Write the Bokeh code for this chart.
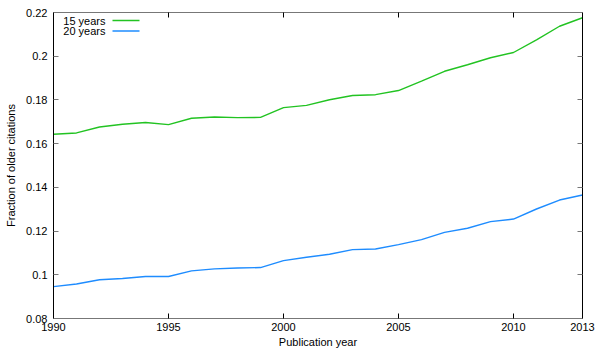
from bokeh.plotting import figure
from bokeh.models import Range1d, LinearAxis, FixedTicker, Label, Arrow
from bokeh.embed import file_html
from bokeh.resources import INLINE

years = list(range(1990, 2014))
frac_15 = [0.1643, 0.1649, 0.1676, 0.1689, 0.1697, 0.1687, 0.1716, 0.1722,
           0.1719, 0.1720, 0.1765, 0.1775, 0.1801, 0.1820, 0.1824, 0.1843,
           0.1886, 0.1931, 0.1961, 0.1993, 0.2017, 0.2075, 0.2137, 0.2176]
frac_20 = [0.0946, 0.0958, 0.0977, 0.0983, 0.0992, 0.0992, 0.1018, 0.1027,
           0.1031, 0.1033, 0.1065, 0.1080, 0.1094, 0.1115, 0.1118, 0.1138,
           0.1161, 0.1194, 0.1213, 0.1243, 0.1255, 0.1301, 0.1342, 0.1365]
series_names = ["15 years", "20 years"]
series_colors = ["#22c322", "#1e8cff"]

x_ticks = [1990, 1995, 2000, 2005, 2010, 2013]
y_ticks = [0.08, 0.1, 0.12, 0.14, 0.16, 0.18, 0.2, 0.22]
y_tick_labels = ["0.08", "0.1", "0.12", "0.14", "0.16", "0.18", "0.2", "0.22"]

FONT = "Liberation Sans"

p = figure(width=600, height=350, output_backend="svg", toolbar_location=None,
           x_range=Range1d(1990, 2013), y_range=Range1d(0.08, 0.22),
           min_border_left=53, min_border_right=18, min_border_top=12,
           min_border_bottom=31)
p.grid.visible = False
p.outline_line_color = "#777777"
p.background_fill_color = "white"
p.border_fill_color = "white"

for ys, name, col in zip([frac_15, frac_20], series_names, series_colors):
    p.line(years, ys, line_color=col, line_width=1.4)

xa = p.xaxis[0]
xa.ticker = FixedTicker(ticks=x_ticks)
xa.axis_label = "Publication year"
ya = p.yaxis[0]
ya.ticker = FixedTicker(ticks=y_ticks)
ya.major_label_overrides = dict(zip(y_ticks, y_tick_labels))
ya.axis_label = "Fraction of older citations"

for ax, col in ((xa, "#777777"), (ya, "black")):
    ax.axis_line_color = col
    ax.major_tick_in = 5
    ax.major_tick_out = 0
    ax.minor_tick_line_color = None
    ax.major_label_text_font = FONT
    ax.major_label_text_font_size = "11px"
    ax.major_label_text_color = "black"
    ax.axis_label_text_font = FONT
    ax.axis_label_text_font_size = "11px"
    ax.axis_label_text_font_style = "normal"
    ax.axis_label_text_color = "black"
xa.major_tick_line_color = "black"
ya.major_tick_line_color = "#777777"
xa.major_label_standoff = 4
xa.axis_label_standoff = 2
ya.major_label_standoff = 6
ya.axis_label_standoff = 6

# mirrored tick marks on top and right borders (no labels)
top = LinearAxis(ticker=FixedTicker(ticks=x_ticks[:-1]), axis_line_color="#777777",
                 major_tick_in=5, major_tick_out=0, minor_tick_line_color=None,
                 major_tick_line_color="black", major_label_text_color=None,
                 major_label_standoff=0)
right = LinearAxis(ticker=FixedTicker(ticks=y_ticks), axis_line_color="black",
                   major_tick_in=5, major_tick_out=0, minor_tick_line_color=None,
                   major_tick_line_color="#777777", major_label_text_color=None,
                   major_label_standoff=0)
p.add_layout(top, "above")
p.add_layout(right, "right")

# gnuplot-style key: label text on the left, line sample on the right
for i, (name, col) in enumerate(zip(series_names, series_colors)):
    sy = 298 - i * 10.5
    p.add_layout(Label(x=52, y=sy, x_units="screen", y_units="screen", text=name,
                       text_align="right", text_baseline="middle",
                       text_font=FONT, text_font_size="11px", text_color="black"))
    p.add_layout(Arrow(end=None, x_start=59, y_start=sy, x_end=86, y_end=sy,
                       start_units="screen", end_units="screen",
                       line_color=col, line_width=1.4))

open("out.html", "w").write(file_html(p, INLINE))
